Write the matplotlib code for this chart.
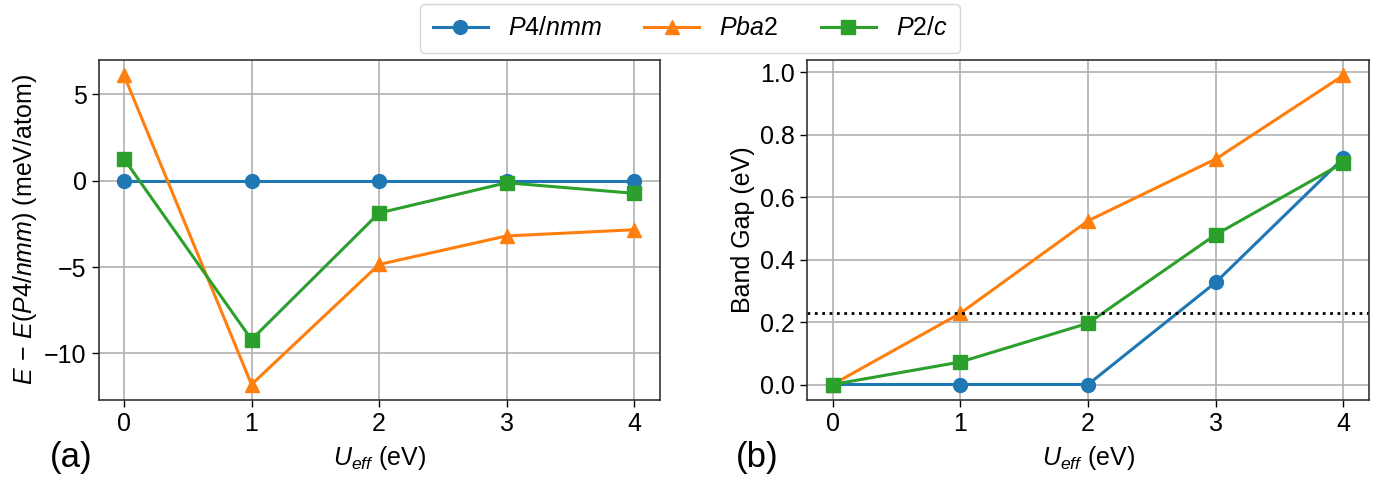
import numpy as np
import matplotlib
matplotlib.use("Agg")
import matplotlib.pyplot as plt

# font setup - Helvetica look-alike
plt.rcParams['font.family'] = ['Liberation Sans', 'DejaVu Sans']
plt.rcParams['mathtext.fontset'] = 'custom'
plt.rcParams['mathtext.rm'] = 'Liberation Sans'
plt.rcParams['mathtext.it'] = 'Liberation Sans:italic'
plt.rcParams['mathtext.bf'] = 'Liberation Sans:bold'

# data
u_eff = [0, 1, 2, 3, 4]
labels = ['$P4/nmm$', '$Pba2$', '$P2/c$']

# (a) energy relative to P4/nmm (meV/atom)
e_p4nmm = [0, 0, 0, 0, 0]
e_pba2 = [6.1, -11.8, -4.85, -3.2, -2.84]
e_p2c = [1.26, -9.2, -1.87, -0.12, -0.73]

# (b) band gap (eV)
gap_p4nmm = [0, 0, 0, 0.327, 0.725]
gap_pba2 = [0, 0.228, 0.524, 0.722, 0.99]
gap_p2c = [0, 0.072, 0.196, 0.48, 0.71]
gap_ref = 0.23

colors = ['#1f77b4', '#ff7f0e', '#2ca02c']
markers = ['o', '^', 's']
fs = 18

fig = plt.figure(figsize=(13.8, 4.79), dpi=100)
ax1 = fig.add_axes([0.0714, 0.165, 0.4065, 0.710])
ax2 = fig.add_axes([0.5848, 0.165, 0.4072, 0.710])

lines = []
for ys, c, m, lab in zip([e_p4nmm, e_pba2, e_p2c], colors, markers, labels):
    l, = ax1.plot(u_eff, ys, color=c, marker=m, lw=2.2, ms=10, label=lab)
    lines.append(l)

for ys, c, m in zip([gap_p4nmm, gap_pba2, gap_p2c], colors, markers):
    ax2.plot(u_eff, ys, color=c, marker=m, lw=2.2, ms=10)
ax2.axhline(gap_ref, color='black', ls=':', lw=2)

for ax in [ax1, ax2]:
    ax.grid(True, color='#b0b0b0', lw=1.2)
    ax.set_axisbelow(True)
    ax.set_xticks(u_eff)
    ax.tick_params(labelsize=fs, length=5, width=1)
    ax.set_xlabel('$U_{eff}$ (eV)', fontsize=fs, labelpad=6)
    for s in ax.spines.values():
        s.set_linewidth(1.2)
        s.set_color('#333333')

ax1.set_yticks([-10, -5, 0, 5])
ax1.set_ylabel(r'$E\,-\,E(P4/nmm)$ (meV/atom)', fontsize=fs)
ax2.set_yticks([0.0, 0.2, 0.4, 0.6, 0.8, 1.0])
ax2.set_ylabel('Band Gap (eV)', fontsize=fs)

fig.text(0.036, 0.025, '(a)', fontsize=25)
fig.text(0.533, 0.025, '(b)', fontsize=25)

fig.legend(handles=lines, loc='upper center', bbox_to_anchor=(0.5, 1.018),
           ncol=3, fontsize=fs, handlelength=2.2, columnspacing=1.7,
           borderpad=0.5, frameon=True)

fig.savefig('out.png', dpi=100)
